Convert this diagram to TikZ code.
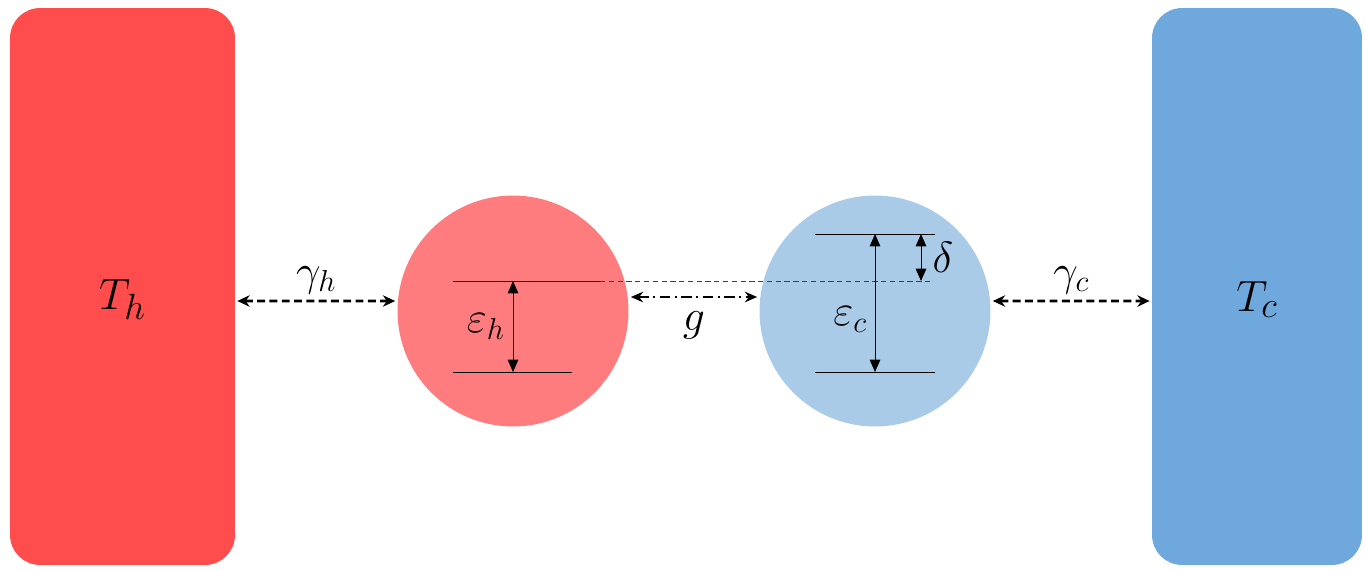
\documentclass[tikz,border=0pt]{standalone}
\usepackage{tikz}
\usetikzlibrary{arrows.meta,positioning,calc}
\definecolor{hotbath}{RGB}{255,77,77}
\definecolor{hotball}{RGB}{255,124,126}
\definecolor{coldbath}{RGB}{111,168,220}
\definecolor{coldball}{RGB}{170,203,232}

\begin{document}
\begin{tikzpicture}[
  x=0.02cm, y=-0.02cm,
  font=\fontsize{26}{30}\selectfont,
  bath/.style={rounded corners=0.6cm, minimum height=11.14cm, inner sep=0pt},
  bathlbl/.style={font=\fontsize{31}{36}\selectfont, yshift=-0.26cm},
  ball/.style={circle, minimum size=4.62cm, inner sep=0pt},
  lvl/.style={line width=0.5pt},
  dim/.style={line width=0.5pt, {Triangle[length=7pt,width=6pt]}-{Triangle[length=7pt,width=6pt]}},
  cpl/.style={line width=1.6pt, dash pattern=on 4.5pt off 2.5pt,
              {Stealth[length=7pt,width=6.5pt]}-{Stealth[length=7pt,width=6.5pt]}},
  gap/.style={line width=1.1pt, dash pattern=on 6pt off 2.5pt on 1.2pt off 2.5pt,
              {Stealth[length=7pt,width=6pt]}-{Stealth[length=7pt,width=6pt]}}
]
\useasboundingbox (0,0) rectangle (1366,569);
\node[bath, fill=hotbath, minimum width=4.5cm,
      label={[bathlbl]center:$T_h$}] (hot) at (122.5,286.5) {};
\node[bath, fill=coldbath, minimum width=4.2cm,
      label={[bathlbl]center:$T_c$}] (cold) at (1257,286.5) {};
\node[ball, fill=hotball] (hball) at (513,311) {};
\node[ball, fill=coldball] (cball) at (875,311) {};

\draw[lvl] ($(hball)+(-60,-30)$) -- ($(hball)+(87,-30)$) coordinate (href);
\draw[lvl] ($(hball)+(-60,61)$) -- ($(hball)+(59,61)$);
\draw[lvl, black!75, dash pattern=on 3pt off 2pt] (href) -- ($(cball)+(58,-30)$) coordinate (cref);
\draw[dim] ($(hball)+(0,-30)$) -- node[left=1pt]{$\varepsilon_h$} ($(hball)+(0,61)$);

\draw[lvl] ($(cball)+(-60,-77)$) -- ($(cball)+(60,-77)$);
\draw[lvl] ($(cball)+(-60,61)$) -- ($(cball)+(60,61)$);
\draw[dim] ($(cball)+(0,-77)$) -- node[pos=0.62,left=1pt]{$\varepsilon_c$} ($(cball)+(0,61)$);
\draw[dim] ($(cball)+(46,-77)$) -- node[right=3pt]{$\delta$} ($(cball)+(46,-30)$);

\draw[gap] ($(hball.east)+(2,-14)$) -- node[below=0.15cm]{$g$} ($(cball.west)+(-2,-14)$);
\draw[cpl] ($(hot.east)+(2,14.5)$) -- node[above]{$\gamma_h$} ($(hball.west)+(-2,-10)$);
\draw[cpl] ($(cball.east)+(2,-10)$) -- node[above]{$\gamma_c$} ($(cold.west)+(-2,14.5)$);
\end{tikzpicture}
\end{document}
